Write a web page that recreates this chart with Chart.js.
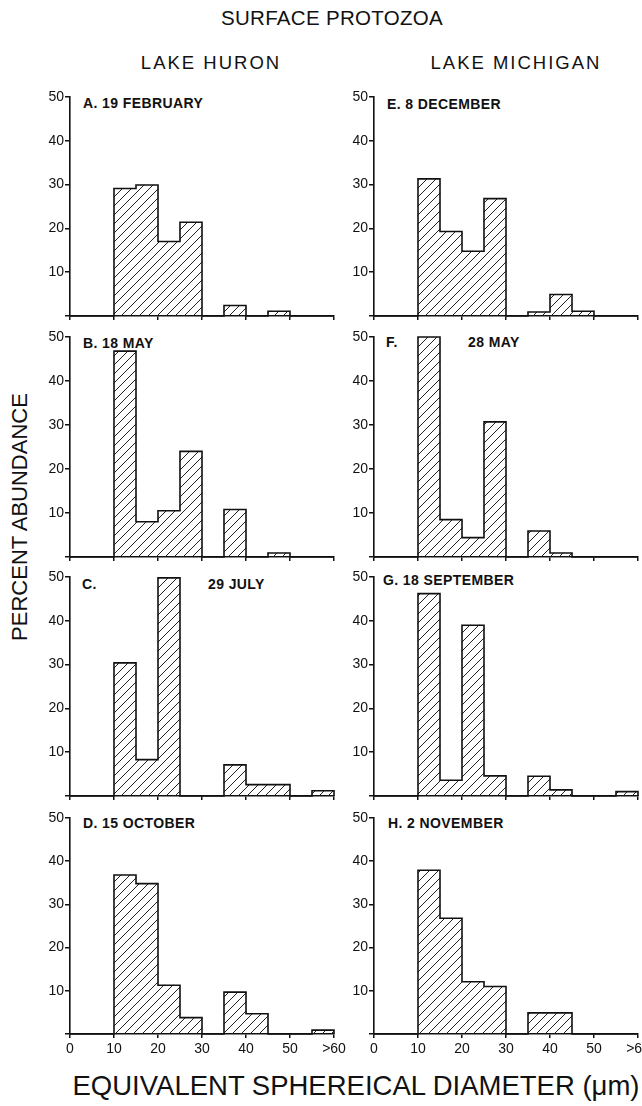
<!DOCTYPE html>
<html>
<head>
<meta charset="utf-8">
<script src="https://cdn.jsdelivr.net/npm/chart.js@4.4.0/dist/chart.umd.min.js"></script>
<style>
  body { margin: 0; background: #fff; width: 642px; height: 1106px; position: relative; overflow: hidden;
         font-family: "Liberation Sans", Arial, sans-serif; color: #111; }
  .t { position: absolute; white-space: nowrap; line-height: 1; }
  .lbl { position: absolute; white-space: nowrap; font-size: 14px; font-weight: bold; line-height: 14px; letter-spacing: 0.4px; }
  canvas { position: absolute; }
</style>
</head>
<body>
<div class="t" style="left:182px;width:300px;text-align:center;top:8px;font-size:20.5px;letter-spacing:0.3px">SURFACE PROTOZOA</div>
<div class="t" style="left:111px;width:200px;text-align:center;top:54px;font-size:18.5px;letter-spacing:2px">LAKE HURON</div>
<div class="t" style="left:416px;width:200px;text-align:center;top:54px;font-size:18.5px;letter-spacing:2px">LAKE MICHIGAN</div>
<div class="t" style="left:-130px;width:300px;text-align:center;top:506px;font-size:22px;transform:rotate(-90deg)">PERCENT ABUNDANCE</div>
<div class="t" style="left:26px;width:660px;text-align:center;top:1072px;font-size:27.5px">EQUIVALENT SPHEREICAL DIAMETER (μm)</div>

<div class="lbl" style="left:83px;top:96px">A. 19 FEBRUARY</div>
<div class="lbl" style="left:83px;top:336px">B. 18 MAY</div>
<div class="lbl" style="left:82px;top:577px">C.</div>
<div class="lbl" style="left:208px;top:577px">29 JULY</div>
<div class="lbl" style="left:83px;top:816px">D. 15 OCTOBER</div>
<div class="lbl" style="left:387px;top:97px">E. 8 DECEMBER</div>
<div class="lbl" style="left:386px;top:335px">F.</div>
<div class="lbl" style="left:468px;top:335px">28 MAY</div>
<div class="lbl" style="left:383px;top:573px">G. 18 SEPTEMBER</div>
<div class="lbl" style="left:388px;top:816px">H. 2 NOVEMBER</div>

<script>
// size classes (µm), 5 µm bins, last one is ">60"
const binStarts = [0, 5, 10, 15, 20, 25, 30, 35, 40, 45, 50, 55];
const xTickLabels = ['0', '10', '20', '30', '40', '50', '>60'];

// percent abundance per bin
const huronFeb = [0, 0, 29.1, 29.9, 17.0, 21.4, 0, 2.4, 0, 1.1, 0, 0];
const huronMay = [0, 0, 46.8, 8.0, 10.5, 24.0, 0, 10.8, 0, 0.9, 0, 0];
const huronJul = [0, 0, 30.4, 8.3, 49.8, 0, 0, 7.1, 2.6, 2.6, 0, 1.2];
const huronOct = [0, 0, 36.8, 34.8, 11.3, 3.8, 0, 9.7, 4.7, 0, 0, 0.9];
const michDec = [0, 0, 31.3, 19.3, 14.8, 26.8, 0, 0.9, 4.9, 1.1, 0, 0];
const michMay = [0, 0, 50.0, 8.5, 4.4, 30.7, 0, 5.9, 0.9, 0, 0, 0];
const michSep = [0, 0, 46.2, 3.6, 39.0, 4.6, 0, 4.5, 1.4, 0, 0, 1.0];
const michNov = [0, 0, 37.9, 26.8, 12.1, 11.0, 0, 4.9, 4.9, 0, 0, 0];

const panels = [huronFeb, huronMay, huronJul, huronOct, michDec, michMay, michSep, michNov];

// plot area top / bottom for each row
const rowTop = [97, 337, 577, 818];
const rowBottom = [316, 557, 796, 1034];
const colLeft = [28, 332];
const colWidth = [322, 310];
const colPadRight = [16, 4];

const ink = '#111';
const fontFam = '"Liberation Sans", Arial, sans-serif';

// diagonal hatching
function hatch() {
  const s = 9;
  const c = document.createElement('canvas');
  c.width = s; c.height = s;
  const g = c.getContext('2d');
  g.strokeStyle = '#222';
  g.lineWidth = 1;
  g.beginPath();
  g.moveTo(-1, s + 1); g.lineTo(s + 1, -1);
  g.moveTo(-1, 1); g.lineTo(1, -1);
  g.moveTo(s - 1, s + 1); g.lineTo(s + 1, s - 1);
  g.stroke();
  return g.createPattern(c, 'repeat');
}
const pattern = hatch();

panels.forEach((vals, idx) => {
  const col = idx < 4 ? 0 : 1;
  const row = idx % 4;
  const isBottom = row === 3;
  const padTop = 12;
  const xh = isBottom ? 27 : 6;

  const canvas = document.createElement('canvas');
  canvas.width = colWidth[col];
  canvas.height = rowBottom[row] - rowTop[row] + padTop + xh;
  canvas.style.left = colLeft[col] + 'px';
  canvas.style.top = (rowTop[row] - padTop) + 'px';
  document.body.appendChild(canvas);

  const bars = binStarts.map((s, i) => ({ x: s + 2.5, y: vals[i] }));
  const outline = binStarts.map((s, i) => ({ x: s, y: vals[i] }));
  outline.push({ x: 60, y: 0 });

  new Chart(canvas.getContext('2d'), {
    type: 'bar',
    data: {
      datasets: [
        {
          type: 'line',
          data: outline,
          stepped: 'before',
          borderColor: ink,
          borderWidth: 1.6,
          pointRadius: 0,
          fill: false,
          clip: false
        },
        {
          data: bars,
          backgroundColor: pattern,
          borderWidth: 0,
          barPercentage: 1,
          categoryPercentage: 1
        }
      ]
    },
    options: {
      responsive: false,
      animation: false,
      layout: { padding: { top: padTop, right: colPadRight[col], left: 0, bottom: 0 } },
      plugins: { legend: { display: false }, tooltip: { enabled: false } },
      scales: {
        x: {
          type: 'linear',
          min: 0,
          max: 60,
          offset: false,
          ticks: {
            stepSize: 10,
            display: isBottom,
            autoSkip: false,
            maxRotation: 0,
            padding: 3,
            color: ink,
            font: { size: 14, family: fontFam },
            callback: v => xTickLabels[v / 10]
          },
          grid: { offset: false, drawOnChartArea: false, color: ink, lineWidth: 1.5, tickLength: 4 },
          border: { color: ink, width: 1.6 },
          afterFit: s => { s.height = xh; s.paddingLeft = 0; s.paddingRight = 0; }
        },
        y: {
          min: 0,
          max: 50,
          ticks: {
            stepSize: 10,
            padding: 1,
            color: ink,
            font: { size: 14, family: fontFam },
            callback: v => v === 0 ? '' : v
          },
          grid: { drawOnChartArea: false, color: ink, lineWidth: 1.5, tickLength: 5 },
          border: { color: ink, width: 1.6 },
          afterFit: s => { s.width = 42; s.paddingTop = 0; s.paddingBottom = 0; }
        }
      }
    }
  });
});
</script>
</body>
</html>
